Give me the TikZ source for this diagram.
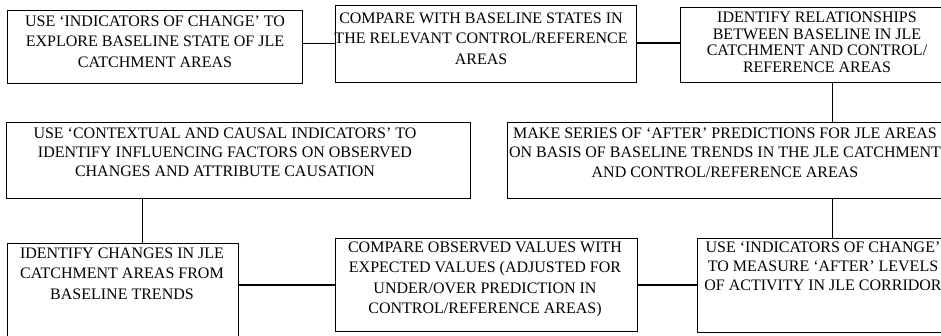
\documentclass[tikz,border=0pt]{standalone}
\usepackage{fontspec}
\setmainfont{Liberation Serif}
\begin{document}
\begin{tikzpicture}[x=1pt,y=1pt,
  box/.style={draw, line width=0.8pt, inner sep=0pt, anchor=north west},
  txt/.style={align=center, inner sep=0pt, anchor=north, font=\fontsize{16}{20.5}\selectfont},
  link/.style={line width=1.3pt}]
\useasboundingbox (0,0) rectangle (941,-335);
% boxes
\node[box, minimum width=295, minimum height=73] (b1) at (7,-10) {};
\node[box, minimum width=301, minimum height=77] (b2) at (335,-5) {};
\node[box, minimum width=275, minimum height=75] (b3) at (680,-7) {};
\node[box, minimum width=440, minimum height=76] (b4) at (507,-122) {};
\node[box, minimum width=464, minimum height=76] (b5) at (6,-122) {};
\node[box, minimum width=231, minimum height=100] (b6) at (7,-243) {};
\node[box, minimum width=302, minimum height=93] (b7) at (335,-238) {};
\node[box, minimum width=252, minimum height=94] (b8) at (697,-238) {};
% texts
\node[txt] (t1) at (155,-15.5) {USE ‘INDICATORS OF CHANGE’ TO\\EXPLORE BASELINE STATE OF JLE\\CATCHMENT AREAS};
\node[txt] (t2) at (481,-12.5) {COMPARE WITH BASELINE STATES IN\\THE RELEVANT CONTROL/REFERENCE\\AREAS};
\node[txt, font=\fontsize{16}{16.8}\selectfont] (t3) at (817,-11.5) {IDENTIFY RELATIONSHIPS\\BETWEEN BASELINE IN JLE\\CATCHMENT AND CONTROL/\\REFERENCE AREAS};
\node[txt, font=\fontsize{16}{19.5}\selectfont] (t4) at (725,-127.5) {MAKE SERIES OF ‘AFTER’ PREDICTIONS FOR JLE AREAS\\ON BASIS OF BASELINE TRENDS IN THE JLE CATCHMENT\\AND CONTROL/REFERENCE AREAS};
\node[txt, font=\fontsize{16}{19}\selectfont] (t5) at (225,-127.5) {USE ‘CONTEXTUAL AND CAUSAL INDICATORS’ TO\\IDENTIFY INFLUENCING FACTORS ON OBSERVED\\CHANGES AND ATTRIBUTE CAUSATION};
\node[txt] (t6) at (122,-247.5) {IDENTIFY CHANGES IN JLE\\CATCHMENT AREAS FROM\\BASELINE TRENDS};
\node[txt] (t7) at (485,-241.5) {COMPARE OBSERVED VALUES WITH\\EXPECTED VALUES (ADJUSTED FOR\\UNDER/OVER PREDICTION IN\\CONTROL/REFERENCE AREAS)};
\node[txt, font=\fontsize{16}{19}\selectfont] (t8) at (823,-241.5) {USE ‘INDICATORS OF CHANGE’\\TO MEASURE ‘AFTER’ LEVELS\\OF ACTIVITY IN JLE CORRIDOR};
% connectors
\draw[link] ([yshift=3.5]b1.east) -- ([yshift=3.5]b1.east -| b2.west);
\draw[link] ([yshift=1]b2.east) -- ([yshift=1]b2.east -| b3.west);
\draw[link] ([xshift=14.5]b3.south) -- ([xshift=14.5]b3.south |- b4.north);
\draw[link] ([xshift=14.5]b3.south |- b4.south) -- ([xshift=14.5]b3.south |- b8.north);
\draw[link] (b7.east) -- (b7.east -| b8.west);
\draw[link] (b7.west -| b6.east) -- (b7.west);
\draw[link] ([xshift=19.5]b6.north) -- ([xshift=19.5]b6.north |- b5.south);
\end{tikzpicture}
\end{document}
